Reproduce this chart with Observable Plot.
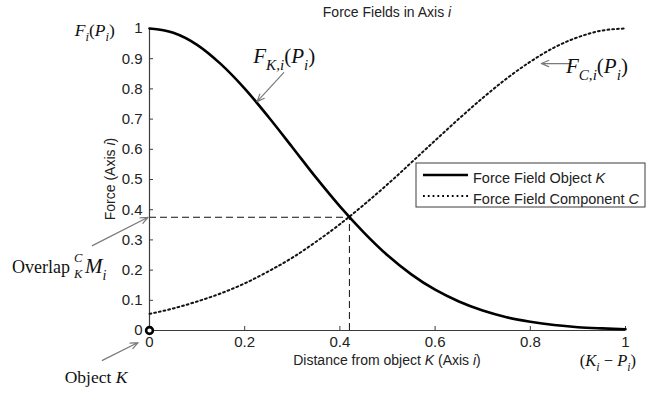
<!DOCTYPE html>
<html>
<head>
<meta charset="utf-8">
<script src="https://cdn.jsdelivr.net/npm/d3@7"></script>
<script src="https://cdn.jsdelivr.net/npm/@observablehq/plot@0.6"></script>
<style>
  body { margin: 0; background: #fff; }
  #chart svg { display: block; }
</style>
</head>
<body>
<div id="chart"></div>
<script>
// Distance from object K along axis i (normalised)
const distance = [0, 0.05, 0.1, 0.15, 0.2, 0.25, 0.3, 0.35, 0.4, 0.45, 0.5,
                  0.55, 0.6, 0.65, 0.7, 0.75, 0.8, 0.85, 0.9, 0.95, 1];
// Force field of object K
const forceObjectK = [1, 0.986, 0.946, 0.882, 0.801, 0.707, 0.607, 0.506, 0.411, 0.325, 0.249,
                      0.186, 0.135, 0.096, 0.066, 0.044, 0.029, 0.018, 0.011, 0.007, 0.004];
// Force field of component C
const forceComponentC = [0.055, 0.073, 0.096, 0.123, 0.156, 0.196, 0.241, 0.294, 0.352, 0.416, 0.484,
                         0.556, 0.629, 0.701, 0.770, 0.834, 0.890, 0.937, 0.971, 0.993, 1];
// Point where the two fields overlap
const overlapX = [0.42];
const overlapY = [0.375];
// Tick values
const xTicks = [0, 0.2, 0.4, 0.6, 0.8, 1];
const yTicks = [0, 0.1, 0.2, 0.3, 0.4, 0.5, 0.6, 0.7, 0.8, 0.9, 1];
// Legend entries
const seriesNames = ["Force Field Object ", "Force Field Component "];
const seriesSymbols = ["K", "C"];

const W = 656, H = 393;
const M = {top: 28, right: 31, bottom: 63, left: 149};
const frameW = W - M.left - M.right, frameH = H - M.top - M.bottom;
const SANS = "'Liberation Sans', Arial, sans-serif";
const SERIF = "'Liberation Serif', 'Times New Roman', serif";
const AXIS = "#3c3c3c";
const INK = "#222";
const ARROW = "#7a7a7a";
const DOTS = "1.8,3";

const rowsK = distance.map((d, i) => ({x: d, y: forceObjectK[i]}));
const rowsC = distance.map((d, i) => ({x: d, y: forceComponentC[i]}));
const cross = overlapX.map((x, i) => ({x, y: overlapY[i]}));

// Arrows pointing at the annotated features (data units)
const kAt = 0.223;
const kHead = {x: kAt, y: d3.interpolateNumber(forceObjectK[4], forceObjectK[5])((kAt - 0.2) / 0.05)};
const arrows = [
  {x1: 0.282, y1: 0.854, x2: kHead.x + 0.003, y2: kHead.y},
  {x1: 0.886, y1: 0.884, x2: 0.823, y2: 0.884},
  {x1: -0.120, y1: 0.281, x2: -0.003, y2: overlapY[0]},
  {x1: -0.099, y1: -0.099, x2: -0.024, y2: -0.040}
];

const chart = Plot.plot({
  width: W, height: H,
  marginTop: M.top, marginRight: M.right, marginBottom: M.bottom, marginLeft: M.left,
  x: {domain: [0, 1]},
  y: {domain: [0, 1]},
  style: {fontFamily: SANS, fontSize: "15px", color: INK, background: "#fff", overflow: "visible"},
  marks: [
    // overlap guides
    Plot.ruleY(cross, {y: "y", x1: 0, x2: "x", stroke: "#111", strokeWidth: 1, strokeDasharray: "7,4"}),
    Plot.ruleX(cross, {x: "x", y1: 0, y2: "y", stroke: "#111", strokeWidth: 1, strokeDasharray: "7,4"}),
    // inward ticks
    Plot.tickX(xTicks, {x: d => d, insetTop: frameH - 4, stroke: AXIS, strokeWidth: 1}),
    Plot.tickY(yTicks, {y: d => d, insetRight: frameW - 4, stroke: AXIS, strokeWidth: 1}),
    Plot.axisX({ticks: xTicks, tickSize: 0, tickPadding: 6, tickFormat: d => String(d), label: null}),
    Plot.axisY({ticks: yTicks, tickSize: 0, tickPadding: 7, tickFormat: d => String(d), label: null}),
    // axis lines
    Plot.ruleX([0], {stroke: AXIS, strokeWidth: 1.2}),
    Plot.ruleY([0], {stroke: AXIS, strokeWidth: 1.2}),
    // force fields
    Plot.line(rowsC, {x: "x", y: "y", curve: "monotone-x", stroke: "#111", strokeWidth: 2, strokeDasharray: DOTS}),
    Plot.line(rowsK, {x: "x", y: "y", curve: "monotone-x", stroke: "#000", strokeWidth: 2.6}),
    // object K at the origin
    Plot.dot([{x: 0, y: 0}], {x: "x", y: "y", r: 3.4, stroke: "#000", strokeWidth: 2.6, fill: "#fff"}),
    // annotation arrows
    Plot.arrow(arrows, {x1: "x1", y1: "y1", x2: "x2", y2: "y2", stroke: ARROW, strokeWidth: 1.2, headLength: 10, headAngle: 45})
  ]
});

document.getElementById("chart").appendChild(chart);

const svg = d3.select(chart);
const sx = chart.scale("x"), sy = chart.scale("y");
const px = v => sx.apply(v), py = v => sy.apply(v);

// Text with italic, subscript and superscript runs
function rich(x, y, size, parts, opts = {}) {
  const t = svg.append("text")
    .attr("x", x).attr("y", y)
    .attr("font-family", opts.family || SERIF)
    .attr("font-size", size)
    .attr("fill", opts.fill || "#111")
    .attr("text-anchor", opts.anchor || "start");
  if (opts.transform) t.attr("transform", opts.transform);
  let shift = 0;
  for (const p of parts) {
    const target = p.sub ? size * 0.32 : p.sup ? -size * 0.38 : 0;
    const ts = t.append("tspan").text(p.t);
    if (target - shift !== 0) ts.attr("dy", target - shift);
    shift = target;
    if (p.sub || p.sup) ts.attr("font-size", p.size || size * 0.72);
    else if (p.size) ts.attr("font-size", p.size);
    if (p.it) ts.attr("font-style", "italic");
    if (p.dx) ts.attr("dx", p.dx);
  }
  return t;
}

// Title and axis labels
const cx = M.left + frameW / 2;
rich(cx, 17, 14, [{t: "Force Fields in Axis "}, {t: "i", it: true}], {family: SANS, anchor: "middle", fill: INK});
rich(cx, 365, 14, [{t: "Distance from object "}, {t: "K", it: true}, {t: " (Axis "}, {t: "i", it: true}, {t: ")"}],
     {family: SANS, anchor: "middle", fill: INK});
rich(0, 0, 14, [{t: "Force (Axis "}, {t: "i", it: true}, {t: ")"}],
     {family: SANS, anchor: "middle", fill: INK, transform: `translate(115,${M.top + frameH / 2}) rotate(-90)`});

// Math annotations (anchored in data units)
rich(px(-0.156), py(0.974), 17.5, [{t: "F", it: true}, {t: "i", it: true, sub: true}, {t: "("}, {t: "P", it: true}, {t: "i", it: true, sub: true}, {t: ")"}]);
rich(px(0.219), py(0.884), 21, [{t: "F", it: true}, {t: "K,i", it: true, sub: true}, {t: "("}, {t: "P", it: true}, {t: "i", it: true, sub: true}, {t: ")"}]);
rich(px(0.876), py(0.851), 21, [{t: "F", it: true}, {t: "C,i", it: true, sub: true}, {t: "("}, {t: "P", it: true}, {t: "i", it: true, sub: true}, {t: ")"}]);

// Overlap label: word, stacked C over K, then M with subscript i
const ovX = px(-0.288), ovY = py(0.189);
const ovWord = rich(ovX, ovY, 18, [{t: "Overlap"}]);
const ovEnd = ovX + ovWord.node().getComputedTextLength() + 4;
rich(ovEnd, py(0.225), 12.5, [{t: "C", it: true}]);
rich(ovEnd, py(0.172), 12.5, [{t: "K", it: true}]);
rich(ovEnd + 11, ovY, 21, [{t: "M", it: true}, {t: "i", it: true, sub: true, size: 14}]);

rich(px(-0.177), py(-0.175), 17.5, [{t: "Object "}, {t: "K", it: true}]);
rich(px(0.905), py(-0.118), 16.5, [{t: "("}, {t: "K", it: true}, {t: "i", it: true, sub: true}, {t: " − "}, {t: "P", it: true}, {t: "i", it: true, sub: true}, {t: ")"}]);

// Legend box
const lg = {x: 416, y: 163, w: 229, h: 44};
const leg = svg.append("g");
leg.append("rect").attr("x", lg.x).attr("y", lg.y).attr("width", lg.w).attr("height", lg.h)
  .attr("fill", "#fff").attr("stroke", AXIS).attr("stroke-width", 1);
const styles = [
  {width: 2.6, dash: null},
  {width: 2, dash: DOTS}
];
seriesNames.forEach((name, i) => {
  const yy = lg.y + 12 + i * 21;
  const ln = leg.append("line").attr("x1", lg.x + 7).attr("x2", lg.x + 52).attr("y1", yy).attr("y2", yy)
    .attr("stroke", "#000").attr("stroke-width", styles[i].width);
  if (styles[i].dash) ln.attr("stroke-dasharray", styles[i].dash);
  rich(lg.x + 57, yy + 8, 14.5, [{t: name}, {t: seriesSymbols[i], it: true}], {family: SANS, fill: INK});
});
</script>
</body>
</html>
